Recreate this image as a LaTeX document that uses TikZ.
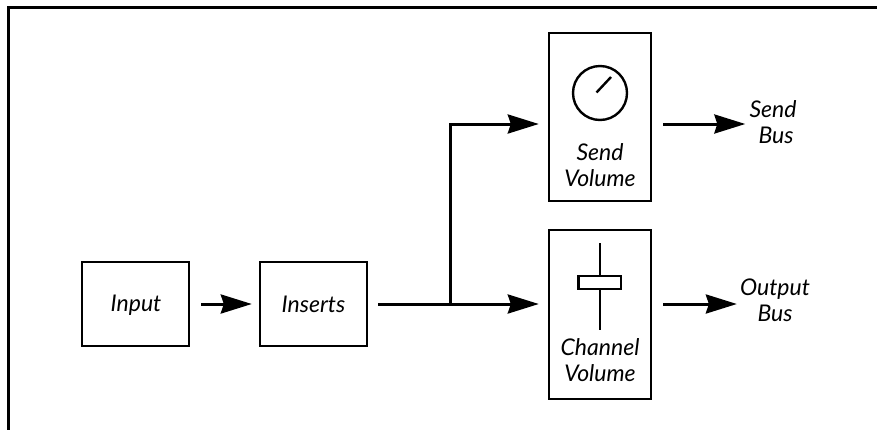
\documentclass[tikz,border=0pt]{standalone}
\usepackage{fontspec}
\setmainfont{Lato}
\usetikzlibrary{arrows.meta}
\begin{document}
\begin{tikzpicture}[x=1pt,y=-1pt,
  box/.style={draw,line width=2.4pt,minimum width=#1,inner sep=0pt},
  lbl/.style={font=\itshape\fontsize{23}{26}\selectfont,align=center,inner sep=0pt},
  arr/.style={line width=3pt,-{Stealth[length=31pt,width=19pt,inset=3pt]}},
  wire/.style={line width=3pt}]
\useasboundingbox (0,0) rectangle (877,429);
% outer frame (only the left and top edges lie inside the page)
\draw[line width=3.2pt] (8.5,432) -- (8.5,7.5) -- (880,7.5);

% signal chain boxes
\node[box=107pt,minimum height=84pt] (in)   at (135.5,304) {};
\node[box=107pt,minimum height=84pt] (ins)  at (313.5,304) {};
\node[box=102pt,minimum height=168pt] (send) at (600,117) {};
\node[box=102pt,minimum height=169pt] (chan) at (600,314.5) {};

\node[lbl] (intext)  at (136,305) {Input};
\node[lbl] (instext) at (313.5,304) {Inserts};
\node[lbl] (sendtext) at (600,165) {Send\\Volume};
\node[lbl] (chantext) at (600,360.5) {Channel\\Volume};

% send knob
\draw[line width=2.4pt] (600,93) circle[radius=27];
\draw[line width=2.4pt] (596.5,92.5) -- (611,77);

% channel fader
\draw[line width=2.4pt] (600,243) -- (600,330);
\draw[line width=2.4pt,fill=white] (578.5,276) rectangle (621,289);

% bus labels
\node[lbl] (sendbus) at (773,122) {Send\\\hspace*{6pt}Bus};
\node[lbl] (outbus)  at (775,300.5) {Output\\Bus};

% connectors
\draw[arr,shorten <=11pt,shorten >=7pt] (in.east) -- (ins.west);
\coordinate (split) at (450,304);
\draw[arr,shorten <=10pt,shorten >=9pt] (ins.east) -- (ins.east -| chan.west);
\draw[arr,shorten >=9pt] (split) |- ([yshift=-7pt]send.west);
\draw[arr,shorten <=11pt,shorten >=4pt] ([yshift=-7pt]send.east) -- ([yshift=-7pt]send.east -| sendbus.west);
\draw[arr,shorten <=11pt,shorten >=3pt] (ins.east -| chan.east) -- (ins.east -| outbus.west);
\end{tikzpicture}
\end{document}
